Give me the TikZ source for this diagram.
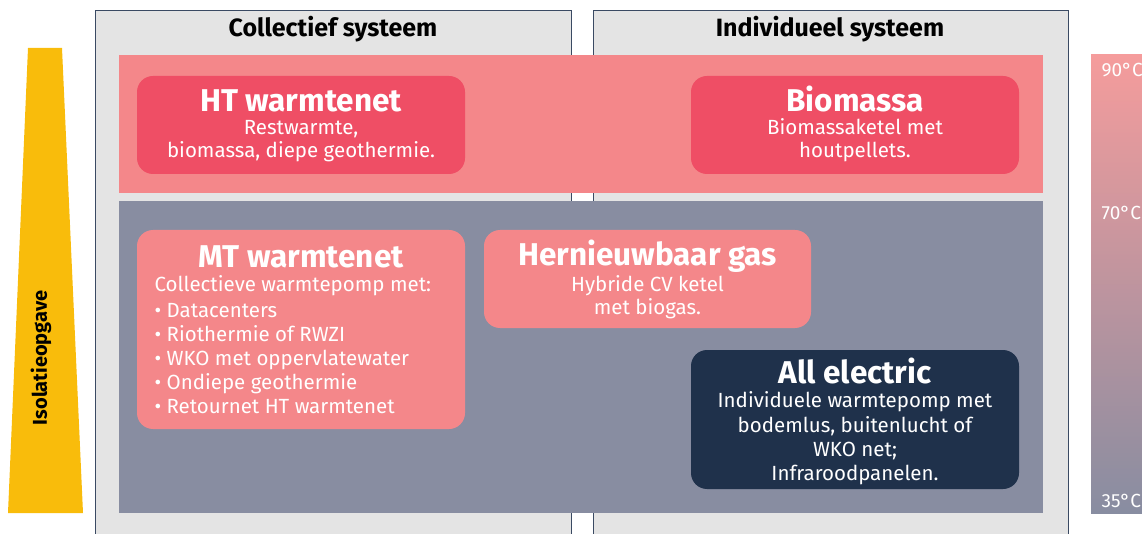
\documentclass[tikz,border=0pt]{standalone}
\usepackage{fontspec}
\setmainfont{Fira Sans}
\definecolor{panelgray}{HTML}{E4E4E4}
\definecolor{navyline}{HTML}{3A4A63}
\definecolor{pinkband}{HTML}{F4878A}
\definecolor{redbox}{HTML}{EF4E65}
\definecolor{slate}{HTML}{888DA1}
\definecolor{navy}{HTML}{1F314B}
\definecolor{isoyellow}{HTML}{F9BC0B}
\definecolor{temptop}{HTML}{F59C9C}
\begin{document}
\begin{tikzpicture}[x=1pt,y=-1pt,
  panel/.style={draw=navyline, line width=0.9pt, fill=panelgray},
  box/.style={rounded corners=16pt, inner sep=0pt, draw=none},
  hdr/.style={font=\fontsize{25}{27}\selectfont\bfseries, text=black, anchor=base},
  ttl/.style={font=\fontsize{31.5}{33}\selectfont\bfseries, text=white, anchor=base},
  bodyc/.style={font=\fontsize{20.5}{24}\selectfont, text=white, anchor=base},
  bodyl/.style={font=\fontsize{20.5}{24}\selectfont, text=white, anchor=base west},
  temp/.style={font=\fontsize{19}{21}\selectfont, text=white, anchor=base west},
]
\useasboundingbox (0,0) rectangle (1142,534);
% isolatie wedge
\fill[isoyellow] (28,48) -- (62,48) -- (83,513) -- (8,513) -- cycle;
\node[font=\fontsize{20}{22}\selectfont\bfseries, rotate=90] (iso) at (41,358) {Isolatieopgave};
% panels
\draw[panel] (95,10) rectangle (571,545);
\draw[panel] (593,10) rectangle (1068,545);
\node[hdr] (hcol) at (333,37) {Collectief systeem};
\node[hdr] (hind) at (830,37) {Individueel systeem};
% bands
\fill[pinkband] (119,55) rectangle (1043,193);
\fill[slate] (119,201) rectangle (1043,513);
% temperature bar
\shade[top color=temptop, bottom color=slate] (1091,55) rectangle (1150,513);
\node[temp] (t90) at (1098,77) {90°C};
\node[temp] (t70) at (1098,220) {70°C};
\node[temp] (t35) at (1098,507) {35°C};
% boxes
\node[box, fill=redbox, minimum width=328pt, minimum height=98pt] (ht) at (301,125) {};
\node[box, fill=redbox, minimum width=328pt, minimum height=98pt] (bio) at (855,125) {};
\node[box, fill=pinkband, minimum width=328pt, minimum height=199pt] (mt) at (301,329.5) {};
\node[box, fill=pinkband, minimum width=327pt, minimum height=98pt] (gas) at (647.5,279) {};
\node[box, fill=navy, minimum width=328pt, minimum height=139pt] (ae) at (855,419.5) {};
% HT
\node[ttl] (htt) at (301,112) {HT warmtenet};
\node[bodyc] (ht1) at (301,135) {Restwarmte,};
\node[bodyc] (ht2) at (301,158) {biomassa, diepe geothermie.};
% Biomassa
\node[ttl] (biot) at (855,112) {Biomassa};
\node[bodyc] (bio1) at (855,135) {Biomassaketel met};
\node[bodyc] (bio2) at (855,158) {houtpellets.};
% MT
\node[ttl] (mtt) at (301,268) {MT warmtenet};
\node[bodyl] (mt1) at (151,292) {Collectieve warmtepomp met:};
\node[bodyl] (mt2) at (151,317) {• Datacenters};
\node[bodyl] (mt3) at (151,341) {• Riothermie of RWZI};
\node[bodyl] (mt4) at (151,365) {• WKO met oppervlatewater};
\node[bodyl] (mt5) at (151,389) {• Ondiepe geothermie};
\node[bodyl] (mt6) at (151,413) {• Retournet HT warmtenet};
% Gas
\node[ttl] (gast) at (647.5,266) {Hernieuwbaar gas};
\node[bodyc] (gas1) at (647.5,291) {Hybride CV ketel};
\node[bodyc] (gas2) at (647.5,315) {met biogas.};
% All electric
\node[ttl] (aet) at (855,383) {All electric};
\node[bodyc] (ae1) at (855,407) {Individuele warmtepomp met};
\node[bodyc] (ae2) at (855,432) {bodemlus, buitenlucht of};
\node[bodyc] (ae3) at (855,456) {WKO net;};
\node[bodyc] (ae4) at (855,480) {Infraroodpanelen.};
\end{tikzpicture}
\end{document}
